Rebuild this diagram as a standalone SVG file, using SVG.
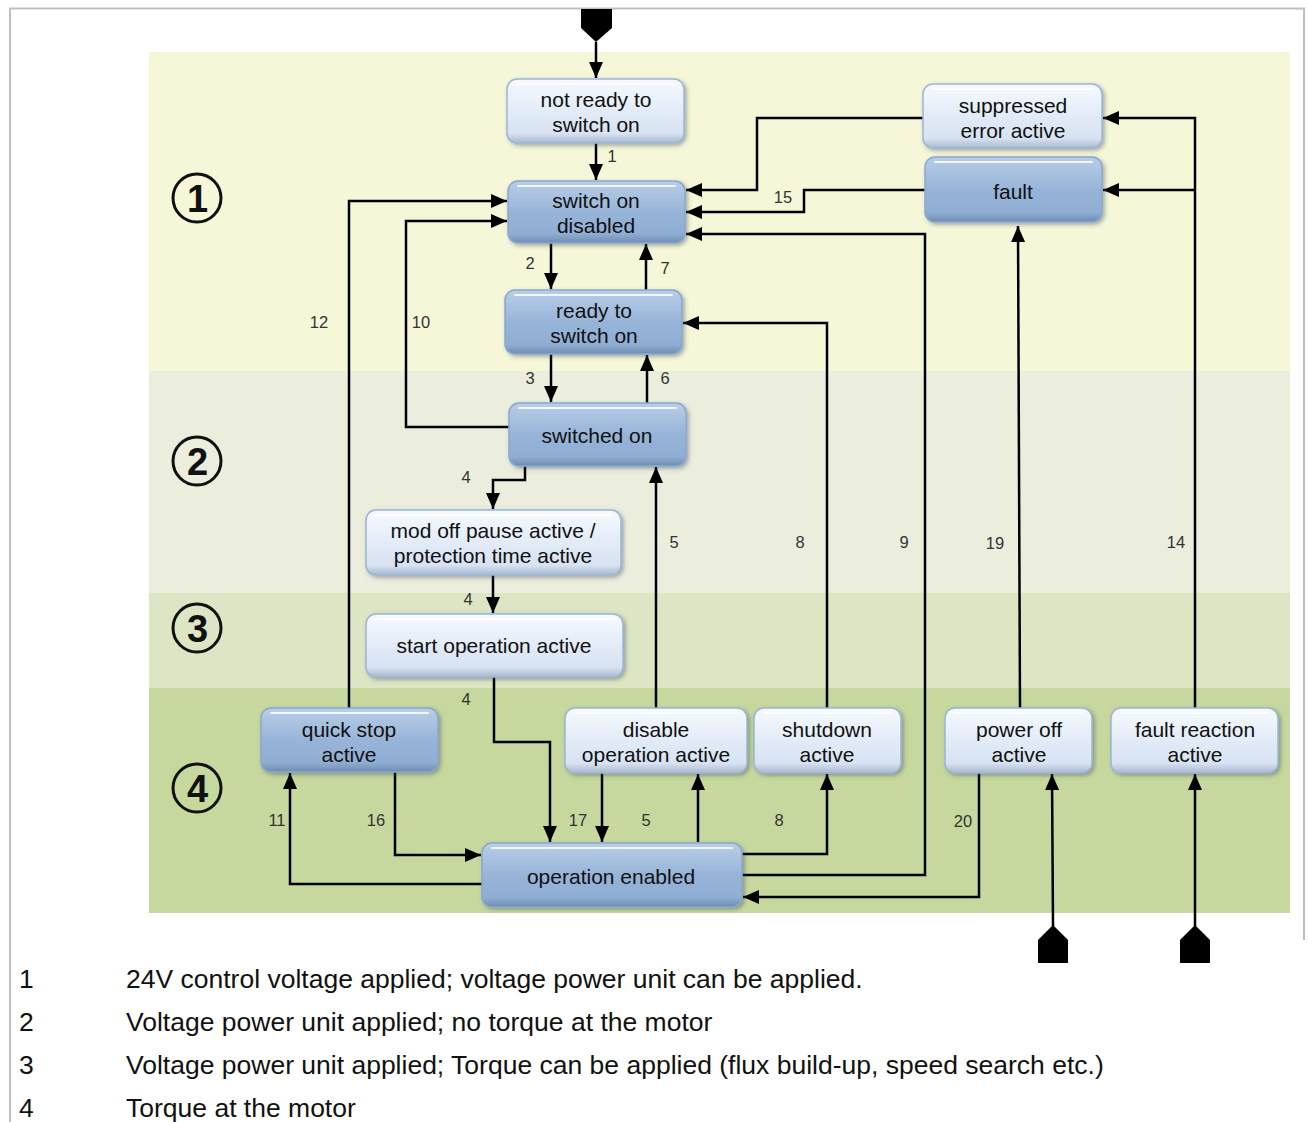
<svg xmlns="http://www.w3.org/2000/svg" width="1308" height="1122" viewBox="0 0 1308 1122">
<defs>
<style>
.lt{fill:url(#gl);stroke:#9BB5D6;stroke-width:1.5;filter:url(#sh)}
.dk{fill:url(#gd);stroke:#8AA8CE;stroke-width:1.5;filter:url(#sh)}
.hl{stroke:#FFFFFF;stroke-width:2;stroke-linecap:round;opacity:0.85}
.nt{font-family:"Liberation Sans",Arial,sans-serif;font-size:21px;fill:#111;text-anchor:middle}
.lb{font-family:"Liberation Sans",Arial,sans-serif;font-size:16.5px;fill:#333;text-anchor:middle}
.lg{font-family:"Liberation Sans",Arial,sans-serif;font-size:26.5px;fill:#111}
.cn{font-family:"Liberation Sans",Arial,sans-serif;font-size:38px;font-weight:bold;fill:#111;text-anchor:middle}
.ln{fill:none;stroke:#000;stroke-width:2.5;marker-end:url(#ah)}
</style>
<linearGradient id="gl" x1="0" y1="0" x2="0" y2="1">
<stop offset="0" stop-color="#F7FAFE"/>
<stop offset="0.5" stop-color="#E2EBF7"/>
<stop offset="0.85" stop-color="#D7E2F2"/>
<stop offset="1" stop-color="#A9B8CC"/>
</linearGradient>
<linearGradient id="gd" x1="0" y1="0" x2="0" y2="1">
<stop offset="0" stop-color="#B9CEE8"/>
<stop offset="0.5" stop-color="#97B4D8"/>
<stop offset="0.85" stop-color="#90AED4"/>
<stop offset="1" stop-color="#6F8BAF"/>
</linearGradient>
<filter id="sh" x="-10%" y="-15%" width="125%" height="140%">
<feDropShadow dx="2" dy="2" stdDeviation="2" flood-color="#3A4A60" flood-opacity="0.45"/>
</filter>
<marker id="ah" viewBox="0 0 16 14" refX="16" refY="7" markerWidth="16" markerHeight="14" markerUnits="userSpaceOnUse" orient="auto">
<path d="M0,0 L16,7 L0,14 z" fill="#000"/>
</marker>
</defs>
<rect x="0" y="0" width="1308" height="1122" fill="#FFFFFF"/>
<g id="frame" stroke="#BFBFBF" stroke-width="2" fill="none">
<path d="M10,1122 V8.5 H1304 V940"/>
</g>
<g id="bands">
<rect x="149" y="52" width="1141" height="319" fill="#F5F7D8"/>
<rect x="149" y="371" width="1141" height="222" fill="#EBEEDD"/>
<rect x="149" y="593" width="1141" height="95" fill="#DDE6C4"/>
<rect x="149" y="688" width="1141" height="225" fill="#C6D89E"/>
</g>
<g id="zones">
<g id="zone1"><circle cx="197" cy="198" r="24" fill="none" stroke="#111" stroke-width="3"/><text class="cn" x="197.5" y="212">1</text></g>
<g id="zone2"><circle cx="197" cy="461" r="24" fill="none" stroke="#111" stroke-width="3"/><text class="cn" x="197.5" y="475">2</text></g>
<g id="zone3"><circle cx="197" cy="628" r="24" fill="none" stroke="#111" stroke-width="3"/><text class="cn" x="197.5" y="642">3</text></g>
<g id="zone4"><circle cx="197" cy="788" r="24" fill="none" stroke="#111" stroke-width="3"/><text class="cn" x="197.5" y="802">4</text></g>
</g>
<g id="connectors">
<polygon points="581,9 612,9 612,28 596,42 581,28" fill="#000"/>
<path class="ln" d="M596,42 V78"/>
<path class="ln" d="M596,143 V180"/>
<path class="ln" d="M551,243 V289"/>
<path class="ln" d="M646,290 V244"/>
<path class="ln" d="M551,354 V402"/>
<path class="ln" d="M647,403 V355"/>
<path class="ln" d="M509,427 H406 V221 H507"/>
<path class="ln" d="M349,708 V201 H507"/>
<path class="ln" d="M525,466 V480 H493 V509"/>
<path class="ln" d="M493,575 V613"/>
<path class="ln" d="M494,677 V742 H550 V842"/>
<path class="ln" d="M656,708 V467"/>
<path class="ln" d="M827,708 V323 H683"/>
<path class="ln" d="M742,875 H925 V234 H686"/>
<path class="ln" d="M925,190 H804 V212 H686"/>
<path class="ln" d="M923,118 H757 V190 H686"/>
<path class="ln" d="M1020,708 L1018,226"/>
<path class="ln" d="M1195,708 V118 H1103"/>
<path class="ln" d="M1195,190 H1103"/>
<path class="ln" d="M482,884 H290 V773"/>
<path class="ln" d="M395,772 V855 H481"/>
<path class="ln" d="M602,773 V842"/>
<path class="ln" d="M698,842 V774"/>
<path class="ln" d="M742,854 H827 V774"/>
<path class="ln" d="M979,773 V897 H743"/>
<polygon points="1038,963 1038,940 1053,925 1068,940 1068,963" fill="#000"/>
<path class="ln" d="M1053,926 L1052,774"/>
<polygon points="1180,963 1180,940 1195,925 1210,940 1210,963" fill="#000"/>
<path class="ln" d="M1195,926 V774"/>
</g>
<g id="labels">
<text class="lb" x="612" y="162">1</text>
<text class="lb" x="530" y="269">2</text>
<text class="lb" x="665" y="274">7</text>
<text class="lb" x="530" y="384">3</text>
<text class="lb" x="665" y="384">6</text>
<text class="lb" x="319" y="328">12</text>
<text class="lb" x="421" y="328">10</text>
<text class="lb" x="466" y="483">4</text>
<text class="lb" x="468" y="605">4</text>
<text class="lb" x="466" y="705">4</text>
<text class="lb" x="674" y="548">5</text>
<text class="lb" x="800" y="548">8</text>
<text class="lb" x="904" y="548">9</text>
<text class="lb" x="995" y="549">19</text>
<text class="lb" x="1176" y="548">14</text>
<text class="lb" x="783" y="203">15</text>
<text class="lb" x="277" y="826">11</text>
<text class="lb" x="376" y="826">16</text>
<text class="lb" x="578" y="826">17</text>
<text class="lb" x="646" y="826">5</text>
<text class="lb" x="779" y="826">8</text>
<text class="lb" x="963" y="827">20</text>
</g>
<g id="n-notready"><rect class="lt" x="507" y="79" width="177" height="64" rx="10"/><line class="hl" x1="517" y1="84" x2="674" y2="84"/><text class="nt" x="596" y="107">not ready to</text><text class="nt" x="596" y="132">switch on</text></g>
<g id="n-switchondisabled"><rect class="dk" x="508" y="181" width="177" height="62" rx="10"/><line class="hl" x1="518" y1="186" x2="675" y2="186"/><text class="nt" x="596" y="208">switch on</text><text class="nt" x="596" y="233">disabled</text></g>
<g id="n-readytoswitchon"><rect class="dk" x="505" y="290" width="177" height="64" rx="10"/><line class="hl" x1="515" y1="295" x2="672" y2="295"/><text class="nt" x="594" y="318">ready to</text><text class="nt" x="594" y="343">switch on</text></g>
<g id="n-switchedon"><rect class="dk" x="509" y="403" width="177" height="63" rx="10"/><line class="hl" x1="519" y1="408" x2="676" y2="408"/><text class="nt" x="597" y="443">switched on</text></g>
<g id="n-modoff"><rect class="lt" x="366" y="510" width="255" height="65" rx="10"/><line class="hl" x1="376" y1="515" x2="611" y2="515"/><text class="nt" x="493" y="538">mod off pause active /</text><text class="nt" x="493" y="563">protection time active</text></g>
<g id="n-startop"><rect class="lt" x="366" y="614" width="257" height="63" rx="10"/><line class="hl" x1="376" y1="619" x2="613" y2="619"/><text class="nt" x="494" y="653">start operation active</text></g>
<g id="n-quickstop"><rect class="dk" x="261" y="708" width="177" height="64" rx="10"/><line class="hl" x1="271" y1="713" x2="428" y2="713"/><text class="nt" x="349" y="737">quick stop</text><text class="nt" x="349" y="762">active</text></g>
<g id="n-disableop"><rect class="lt" x="565" y="708" width="182" height="65" rx="10"/><line class="hl" x1="575" y1="713" x2="737" y2="713"/><text class="nt" x="656" y="737">disable</text><text class="nt" x="656" y="762">operation active</text></g>
<g id="n-shutdown"><rect class="lt" x="754" y="708" width="147" height="65" rx="10"/><line class="hl" x1="764" y1="713" x2="891" y2="713"/><text class="nt" x="827" y="737">shutdown</text><text class="nt" x="827" y="762">active</text></g>
<g id="n-poweroff"><rect class="lt" x="945" y="708" width="147" height="65" rx="10"/><line class="hl" x1="955" y1="713" x2="1082" y2="713"/><text class="nt" x="1019" y="737">power off</text><text class="nt" x="1019" y="762">active</text></g>
<g id="n-faultreaction"><rect class="lt" x="1111" y="708" width="167" height="65" rx="10"/><line class="hl" x1="1121" y1="713" x2="1268" y2="713"/><text class="nt" x="1195" y="737">fault reaction</text><text class="nt" x="1195" y="762">active</text></g>
<g id="n-openabled"><rect class="dk" x="482" y="843" width="260" height="64" rx="10"/><line class="hl" x1="492" y1="848" x2="732" y2="848"/><text class="nt" x="611" y="884">operation enabled</text></g>
<g id="n-suppressed"><rect class="lt" x="923" y="84" width="179" height="64" rx="10"/><line class="hl" x1="933" y1="89" x2="1092" y2="89"/><text class="nt" x="1013" y="113">suppressed</text><text class="nt" x="1013" y="138">error active</text></g>
<g id="n-fault"><rect class="dk" x="925" y="157" width="177" height="65" rx="10"/><line class="hl" x1="935" y1="162" x2="1092" y2="162"/><text class="nt" x="1013" y="199">fault</text></g>
<g id="legend">
<text class="lg" x="19" y="988">1</text><text class="lg" x="126" y="988">24V control voltage applied; voltage power unit can be applied.</text>
<text class="lg" x="19" y="1031">2</text><text class="lg" x="126" y="1031">Voltage power unit applied; no torque at the motor</text>
<text class="lg" x="19" y="1074">3</text><text class="lg" x="126" y="1074">Voltage power unit applied; Torque can be applied (flux build-up, speed search etc.)</text>
<text class="lg" x="19" y="1117">4</text><text class="lg" x="126" y="1117">Torque at the motor</text>
</g>
</svg>
